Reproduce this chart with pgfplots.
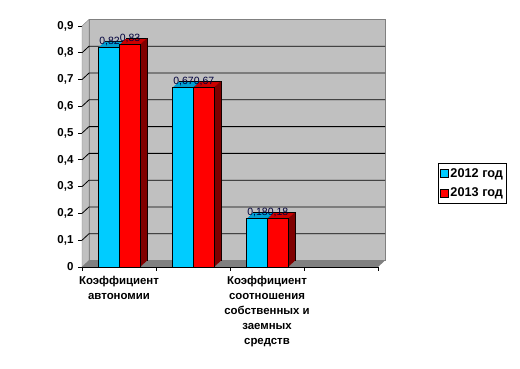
\documentclass[border=0pt]{standalone}
\usepackage{fontspec}
\setmainfont{Liberation Sans}
\usepackage{pgfplots}
\usepackage{pgfplotstable}
\pgfplotsset{compat=1.18}
\definecolor{cy}{RGB}{0,204,255}
\definecolor{cytop}{RGB}{0,160,210}
\definecolor{cyside}{RGB}{0,102,128}
\definecolor{rd}{RGB}{255,0,0}
\definecolor{rdtop}{RGB}{204,0,0}
\definecolor{rdside}{RGB}{128,0,0}
\definecolor{wallc}{RGB}{192,192,192}
\definecolor{floorc}{RGB}{128,128,128}
\definecolor{lblc}{RGB}{0,0,60}
\tikzset{bk/.style={xshift=7bp,yshift=6.5bp}}

\pgfplotstableread{
x y
1 0.82
2 0.67
3 0.18
}\dataA
\pgfplotstableread{
x y
1 0.83
2 0.67
3 0.18
}\dataB

\begin{document}
\begin{tikzpicture}
\useasboundingbox (0,0) rectangle (520bp,369bp);
\begin{axis}[
  at={(82bp,102bp)}, anchor=south west,
  scale only axis, width=296bp, height=241bp,
  xmin=0.5, xmax=4.5, ymin=0, ymax=0.9,
  clip=false,
  axis x line*=bottom, axis y line*=left,
  axis line style={black, line width=0.8pt, -},
  tick align=outside, major tick length=4bp,
  tick style={black, line width=0.8pt},
  xtick={0.5,1.5,2.5,3.5,4.5}, xticklabels={},
  extra x ticks={1,3},
  extra x tick labels={{Коэффициент\\автономии},{Коэффициент\\соотношения\\собственных и\\заемных\\средств}},
  extra x tick style={major tick length=0pt, tick style={draw=none}},
  xticklabel style={font=\fontsize{11.4bp}{15bp}\selectfont\bfseries, align=center, anchor=north, yshift=-6bp},
  ytick={0,0.1,0.2,0.3,0.4,0.5,0.6,0.7,0.8,0.9},
  yticklabel style={font=\fontsize{11.5bp}{13bp}\selectfont\bfseries, xshift=-1bp},
  /pgf/number format/assume math mode=true,
  /pgf/number format/use comma,
  /pgf/number format/fixed,
  legend style={at={(1.2027,0.4315)}, anchor=north west, draw=black, line width=0.8pt,
    font=\fontsize{12.7bp}{14bp}\selectfont\bfseries, inner xsep=1.5bp, inner ysep=3bp, row sep=5bp,
    legend cell align=left, /tikz/every even column/.style={column sep=1bp}},
]
% walls
\fill[wallc, draw=floorc] ([bk]axis cs:0.5,0) rectangle ([bk]axis cs:4.5,0.9);
\fill[wallc, draw=floorc] (axis cs:0.5,0) -- ([bk]axis cs:0.5,0) -- ([bk]axis cs:0.5,0.9) -- (axis cs:0.5,0.9) -- cycle;
\fill[floorc] (axis cs:0.5,0) -- (axis cs:4.5,0) -- ([bk]axis cs:4.5,0) -- ([bk]axis cs:0.5,0) -- cycle;
\pgfplotsinvokeforeach{0.1,0.2,0.3,0.4,0.5,0.6,0.7,0.8}{
  \draw[black, line width=0.8pt] (axis cs:0.5,#1) -- ([bk]axis cs:0.5,#1) -- ([bk]axis cs:4.5,#1);
}
% 2012 series
\addplot[ybar, bar width=21bp, bar shift=-10.5bp, fill=cytop, draw=black, line width=0.7pt, xshift=7bp, yshift=6.5bp, forget plot] table {\dataA};
\pgfplotsinvokeforeach{6,5,4,3,2,1}{
  \addplot[ybar, bar width=21bp, bar shift=-10.5bp, fill=cytop, draw=none, xshift=#1*1bp, yshift=#1*0.93bp, forget plot] table {\dataA};
}
\pgfplotsinvokeforeach{1,2,3,4,5,6,7}{
  \addplot[ybar, bar width=1.05bp, bar shift={(#1-0.5)*1bp}, fill=cyside, draw=none, yshift={(#1-0.5)*0.93bp}, forget plot] table {\dataA};
}
\addplot[ybar, bar width=21bp, bar shift=-10.5bp, fill=cy, draw=black, line width=0.8pt,
  legend image code/.code={\draw[fill=cy, draw=black, line width=0.6pt] (0bp,-4bp) rectangle (8bp,4bp);}] table {\dataA};
\addlegendentry{2012 год}
% 2013 series
\addplot[ybar, bar width=21bp, bar shift=10.5bp, fill=rdtop, draw=black, line width=0.7pt, xshift=7bp, yshift=6.5bp, forget plot] table {\dataB};
\pgfplotsinvokeforeach{6,5,4,3,2,1}{
  \addplot[ybar, bar width=21bp, bar shift=10.5bp, fill=rdtop, draw=none, xshift=#1*1bp, yshift=#1*0.93bp, forget plot] table {\dataB};
}
\pgfplotsinvokeforeach{1,2,3,4,5,6,7}{
  \addplot[ybar, bar width=1.05bp, bar shift={(21+#1-0.5)*1bp}, fill=rdside, draw=none, yshift={(#1-0.5)*0.93bp}, forget plot] table {\dataB};
}
\addplot[ybar, bar width=21bp, bar shift=10.5bp, fill=rd, draw=black, line width=0.8pt,
  legend image code/.code={\draw[fill=rd, draw=black, line width=0.6pt] (0bp,-4bp) rectangle (8bp,4bp);}] table {\dataB};
\addlegendentry{2013 год}
% value labels
\addplot[ybar, bar width=21bp, bar shift=-10.5bp, draw=none, fill=none, forget plot,
  nodes near coords, nodes near coords style={anchor=base, yshift=3bp, xshift=-9.5bp, inner sep=0pt, font=\fontsize{10.5bp}{12bp}\selectfont, text=lblc}] table {\dataA};
\addplot[ybar, bar width=21bp, bar shift=10.5bp, draw=none, fill=none, forget plot,
  nodes near coords, nodes near coords style={anchor=base, yshift=3bp, xshift=11bp, inner sep=0pt, font=\fontsize{10.5bp}{12bp}\selectfont, text=lblc}] table {\dataB};
\end{axis}
\end{tikzpicture}
\end{document}
